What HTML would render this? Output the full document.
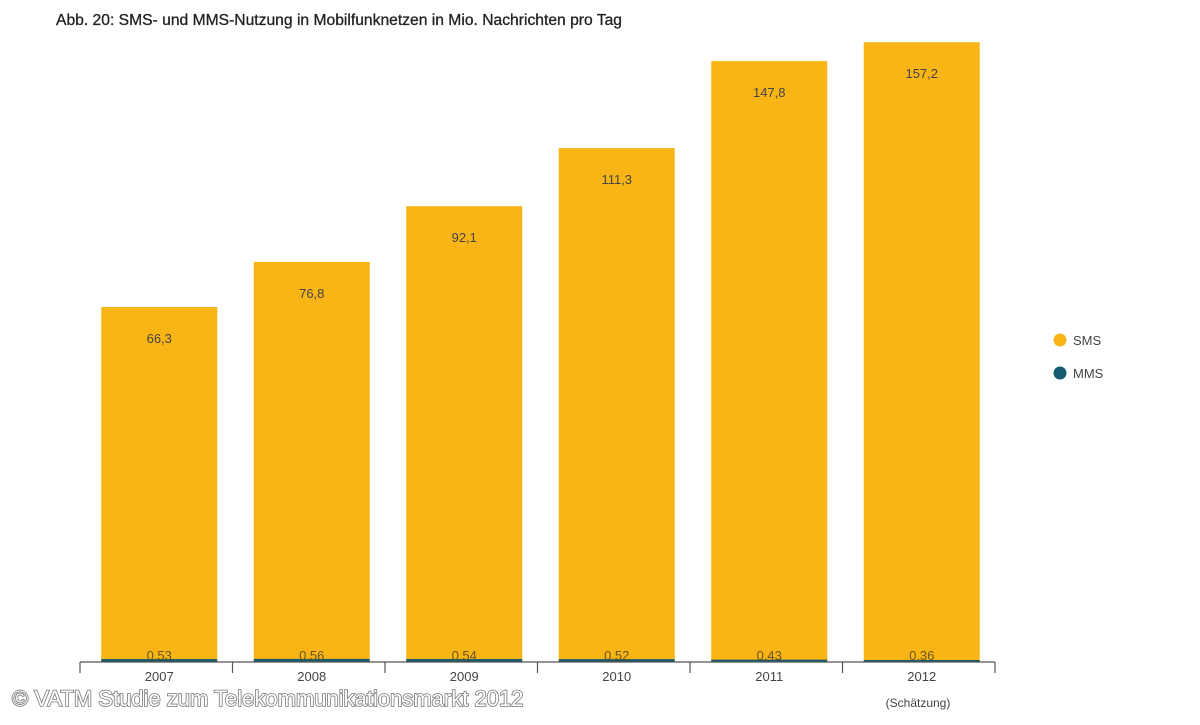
<!DOCTYPE html>
<html><head><meta charset="utf-8"><style>
body{margin:0;width:1200px;height:720px;background:#fff;overflow:hidden;font-family:"Liberation Sans",sans-serif}
</style></head><body>
<svg width="1200" height="720">
<text x="56" y="25" font-size="15.5" fill="#222" stroke="#222" stroke-width="0.3" textLength="566" lengthAdjust="spacingAndGlyphs">Abb. 20: SMS- und MMS-Nutzung in Mobilfunknetzen in Mio. Nachrichten pro Tag</text>
<g id="bars"></g>
<line x1="80" y1="662" x2="995" y2="662" stroke="#555" stroke-width="1.2"/>
<g id="ticks"></g>
<text x="918" y="707" font-size="12" fill="#444" text-anchor="middle">(Schätzung)</text>
<circle cx="1060" cy="340" r="6.5" fill="#F9B516"/>
<text x="1073" y="345" font-size="13" fill="#444">SMS</text>
<circle cx="1060" cy="373" r="6.5" fill="#155A70"/>
<text x="1073" y="378" font-size="13" fill="#444">MMS</text>
<text x="12" y="706" font-size="22" fill="#fff" stroke="#777" stroke-width="1.6" paint-order="stroke">© VATM Studie zum Telekommunikationsmarkt 2012</text>
</svg>
<script>
const years=["2007","2008","2009","2010","2011","2012"];
const sms=[66.3,76.8,92.1,111.3,147.8,157.2];
const mms=[0.53,0.56,0.54,0.52,0.43,0.36];
const smsLabels=["66,3","76,8","92,1","111,3","147,8","157,2"];
const mmsLabels=["0,53","0,56","0,54","0,52","0,43","0,36"];
const NS="http://www.w3.org/2000/svg";
const base=662,x0=80,step=152.5,bw=116;
function yH(v){return Math.max(0,355+306.7*(Math.log(v)-Math.log(66.3)));}
function mH(v){return v*5.5;}
function xB(i){return x0+i*step+(step-bw)/2+3;}
const g=document.getElementById('bars'),t=document.getElementById('ticks');
function el(n,a,p){const e=document.createElementNS(NS,n);for(const k in a)e.setAttribute(k,a[k]);p.appendChild(e);return e;}
years.forEach((y,i)=>{
 const x=xB(i),h=yH(sms[i]);
 const r=el('rect',{x:x,y:base-h,width:bw,height:h,fill:'#F9B516'},g);
 
 
 const mh=mH(mms[i]);
 const m=el('rect',{x:x,y:base-mh,width:bw,height:mh,fill:'#155A70'},g);
 
 
 const l=el('text',{x:x+bw/2,y:base-h+36,'font-size':13,fill:'#444','text-anchor':'middle'},g);
 l.textContent=smsLabels[i];
 
 
 const l2=el('text',{x:x+bw/2,y:base-2,'font-size':13,fill:'#6a5418','text-anchor':'middle'},g);
 l2.textContent=mmsLabels[i];
 
 
 const yl=el('text',{x:x0+i*step+step/2+3,y:681,'font-size':13,fill:'#444','text-anchor':'middle'},t);
 yl.textContent=y;
 
 
});
for(let i=0;i<=years.length;i++){
 const tk=el('line',{x1:x0+i*step,x2:x0+i*step,y1:662,y2:673,stroke:'#555','stroke-width':1.2},t);
 
 
}
</script>
</body></html>
